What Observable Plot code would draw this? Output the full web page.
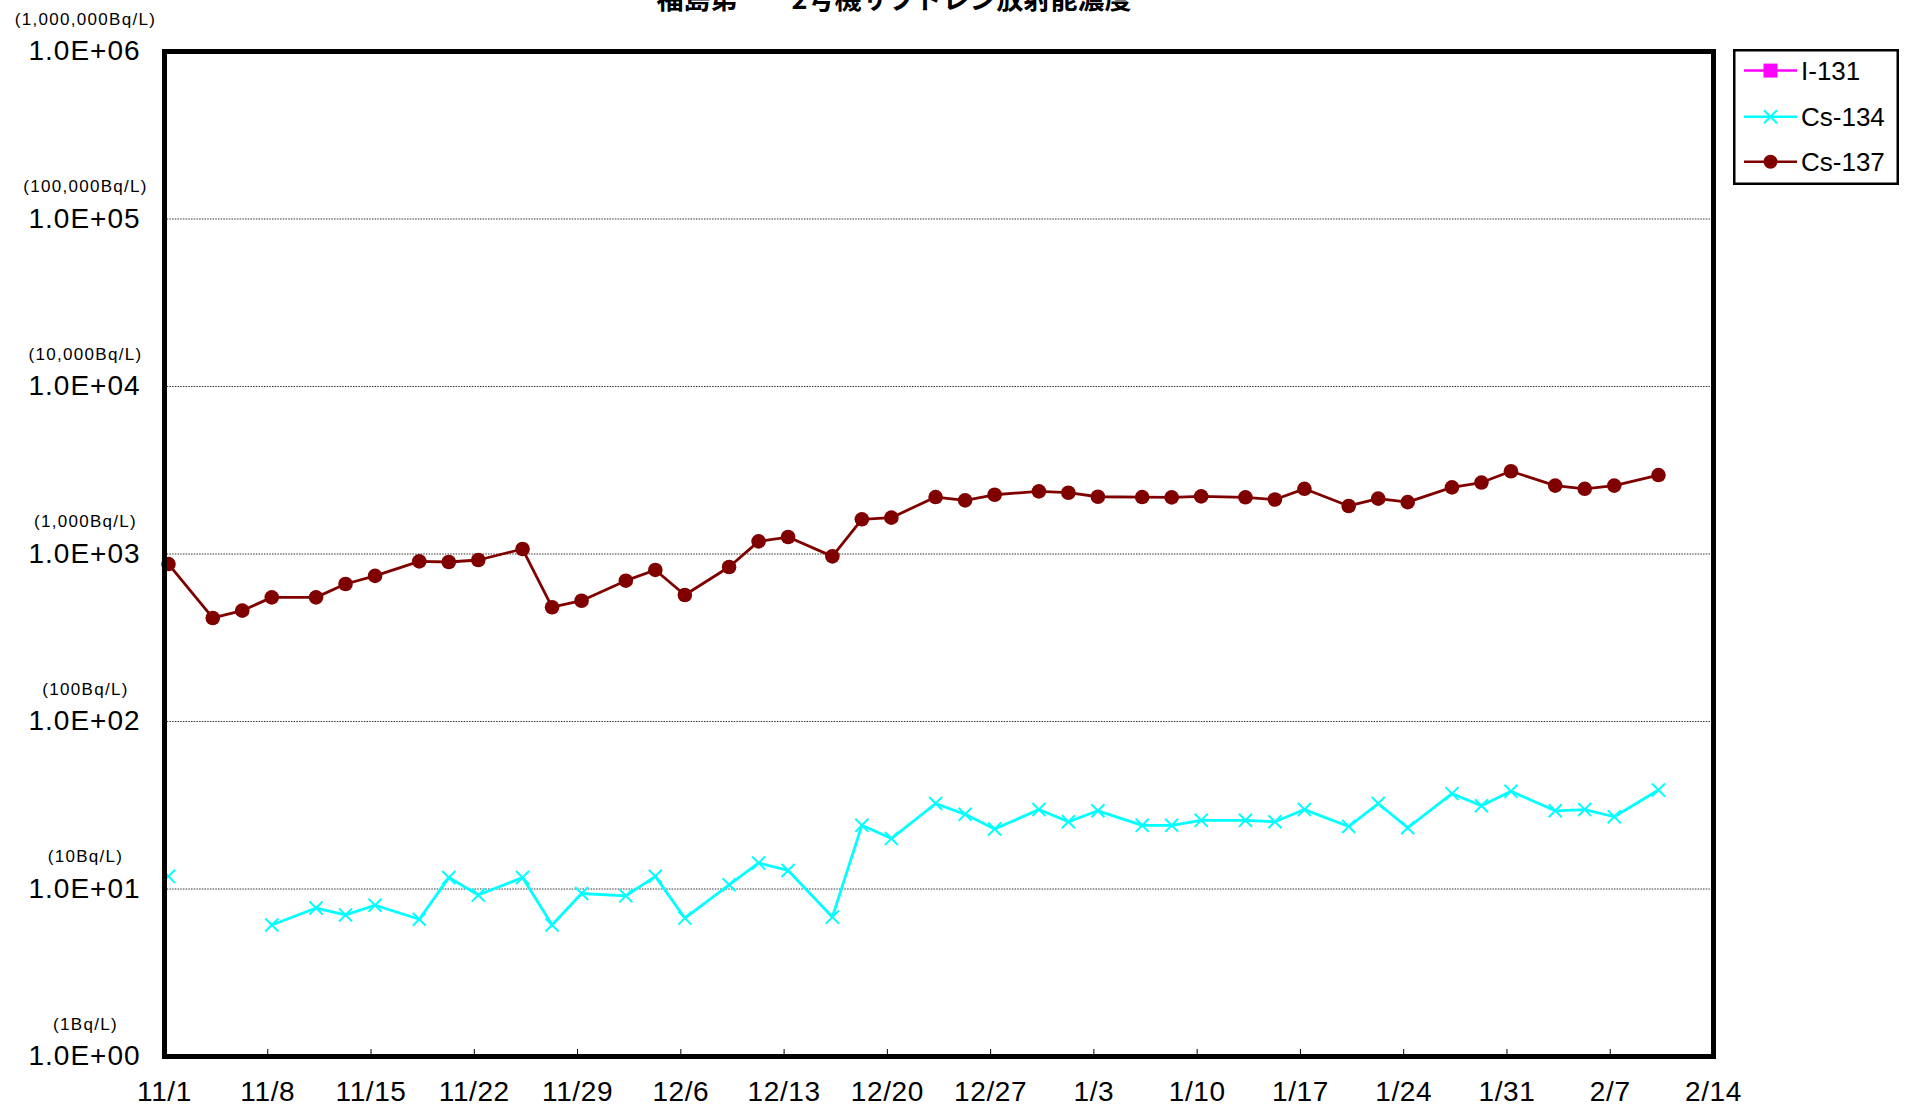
<!DOCTYPE html>
<html><head><meta charset="utf-8">
<script src="https://cdn.jsdelivr.net/npm/d3@7"></script>
<script src="https://cdn.jsdelivr.net/npm/@observablehq/plot@0.6"></script>
<style>
html,body{margin:0;padding:0;background:#fff;}
#wrap{position:relative;width:1908px;height:1110px;overflow:hidden;background:#fff;}
#chart{position:absolute;left:0;top:0;}
#title{position:absolute;left:0;top:-16px;width:1788px;text-align:center;font-family:"Noto Sans CJK JP",sans-serif;font-size:27px;line-height:27px;font-weight:bold;color:#000;white-space:nowrap;}
#legend{position:absolute;left:1733px;top:49px;}
</style></head><body>
<div id="wrap"><div id="chart"></div><div id="title">福島第一　2号機サブドレン放射能濃度</div><div id="legend"></div></div>
<script>
// sampling dates (Nov 2013 – Feb 2014)
const dates = ["11/1","11/4","11/6","11/8","11/11","11/13","11/15","11/18","11/20","11/22","11/25","11/27","11/29",
  "12/2","12/4","12/6","12/9","12/11","12/13","12/16","12/18","12/20","12/23","12/25","12/27","12/30",
  "1/1","1/3","1/6","1/8","1/10","1/13","1/15","1/17","1/20","1/22","1/24","1/27","1/29","1/31",
  "2/3","2/5","2/7","2/10"];
// Bq/L
const cs137 = [871,415,459,551,551,662,740,904,896,921,1071,481,526,
  693,803,569,836,1190,1263,968,1611,1648,2188,2090,2258,2366,
  2322,2197,2188,2178,2208,2180,2115,2450,1935,2140,2040,2500,2670,3120,
  2560,2450,2560,2960];
const cs134 = [11.9,null,null,6.1,7.7,7.0,8.0,6.6,11.7,9.2,11.7,6.1,9.4,
  9.1,11.9,6.7,10.6,14.3,12.9,6.8,24.0,20.0,32.4,27.9,22.8,29.8,
  25.2,29.3,24.0,24.0,25.7,25.7,25.2,29.8,23.6,32.4,23.2,37.1,31.4,38.3,
  29.3,29.8,27.0,39.0];
const i131 = []; // not detected
const seriesNames = ["I-131","Cs-134","Cs-137"];
const seriesColors = ["#FF00FF","#00FFFF","#800000"];
const xTickLabels = ["11/1","11/8","11/15","11/22","11/29","12/6","12/13","12/20","12/27","1/3","1/10","1/17","1/24","1/31","2/7","2/14"];
const xDomainLabels = ["11/1","2/14"];
const yTicks = [1,10,100,1000,10000,100000,1000000];
const yTickLabels = ["1.0E+00","1.0E+01","1.0E+02","1.0E+03","1.0E+04","1.0E+05","1.0E+06"];
const yUnitLabels = ["(1Bq/L)","(10Bq/L)","(100Bq/L)","(1,000Bq/L)","(10,000Bq/L)","(100,000Bq/L)","(1,000,000Bq/L)"];

function toDate(s){const [m,d]=s.split("/").map(Number);return new Date(Date.UTC(m>=10?2013:2014,m-1,d));}
const xTicks = xTickLabels.map(toDate);
const rows = dates.map((s,i)=>({date:toDate(s),cs134:cs134[i],cs137:cs137[i]}));
const shift = 4;

const chart = Plot.plot({
  width:1908,height:1110,marginLeft:164,marginRight:195,marginTop:51,marginBottom:54,
  style:{fontFamily:"'Liberation Sans', Arial, sans-serif",background:"#fff",color:"#000",overflow:"visible"},
  x:{type:"utc",domain:xDomainLabels.map(toDate)},
  y:{type:"log",domain:[yTicks[0],yTicks[yTicks.length-1]]},
  marks:[
    Plot.gridY(yTicks.slice(1,-1),{stroke:"#000",strokeOpacity:0.8,strokeDasharray:"1.5,1.2",strokeWidth:1.2}),
    Plot.axisX(xTicks,{anchor:"top",frameAnchor:"bottom",tickSize:8,fill:"none",stroke:"#000",strokeWidth:1,label:null}),
    Plot.axisX(xTicks,{anchor:"bottom",tickSize:0,tickPadding:25,fontSize:28,label:null,
      tickFormat:d=>xTickLabels[xTicks.findIndex(t=>+t===+d)]}),
    Plot.axisY(yTicks,{anchor:"left",tickSize:0,tickPadding:80,textAnchor:"middle",fontSize:28,label:null,
      tickFormat:d=>yTickLabels[yTicks.indexOf(d)]}),
    Plot.axisY(yTicks,{anchor:"left",tickSize:0,tickPadding:79,textAnchor:"middle",dy:-32,fontSize:17,label:null,
      tickFormat:d=>yUnitLabels[yTicks.indexOf(d)]}),
    Plot.line(rows,{x:"date",y:"cs134",dx:shift,stroke:seriesColors[1],strokeWidth:2.8}),
    Plot.dot(rows.filter(d=>d.cs134!=null),{x:"date",y:"cs134",dx:shift,symbol:"times",r:6,stroke:seriesColors[1],strokeWidth:2}),
    Plot.line(rows,{x:"date",y:"cs137",dx:shift,stroke:seriesColors[2],strokeWidth:2.8}),
    Plot.dot(rows,{x:"date",y:"cs137",dx:shift,r:7.3,fill:seriesColors[2],stroke:"none"}),
    Plot.frame({stroke:"#000",strokeWidth:5})
  ]
});
chart.querySelectorAll('g[aria-label="y-axis tick label"] text').forEach(t=>{
  t.style.letterSpacing = t.textContent.startsWith("(") ? "1.3px" : "1px";
});
chart.querySelectorAll('g[aria-label="x-axis tick label"] text').forEach(t=>{ t.style.letterSpacing="0.6px"; });
document.getElementById("chart").appendChild(chart);

// legend
const lw=166, lh=136, rowsY=[21.6,67.8,112.8];
let s=`<svg width="${lw}" height="${lh}" xmlns="http://www.w3.org/2000/svg" font-family="'Liberation Sans', Arial, sans-serif">`;
s+=`<rect x="1.25" y="1.25" width="${lw-2.5}" height="${lh-2.5}" fill="#fff" stroke="#000" stroke-width="2.5"/>`;
seriesNames.forEach((n,i)=>{
  const y=rowsY[i], c=seriesColors[i];
  s+=`<line x1="11" x2="64" y1="${y}" y2="${y}" stroke="${c}" stroke-width="2.5"/>`;
  if(i===0) s+=`<rect x="30.5" y="${y-7}" width="14" height="14" fill="${c}"/>`;
  if(i===1) s+=`<path d="M31,${y-6.5}L44,${y+6.5}M31,${y+6.5}L44,${y-6.5}" stroke="${c}" stroke-width="2"/>`;
  if(i===2) s+=`<circle cx="37.5" cy="${y}" r="7" fill="${c}"/>`;
  s+=`<text x="68" y="${y}" dy="0.35em" font-size="26" fill="#000">${n}</text>`;
});
s+=`</svg>`;
document.getElementById("legend").innerHTML=s;
</script>
</body></html>
